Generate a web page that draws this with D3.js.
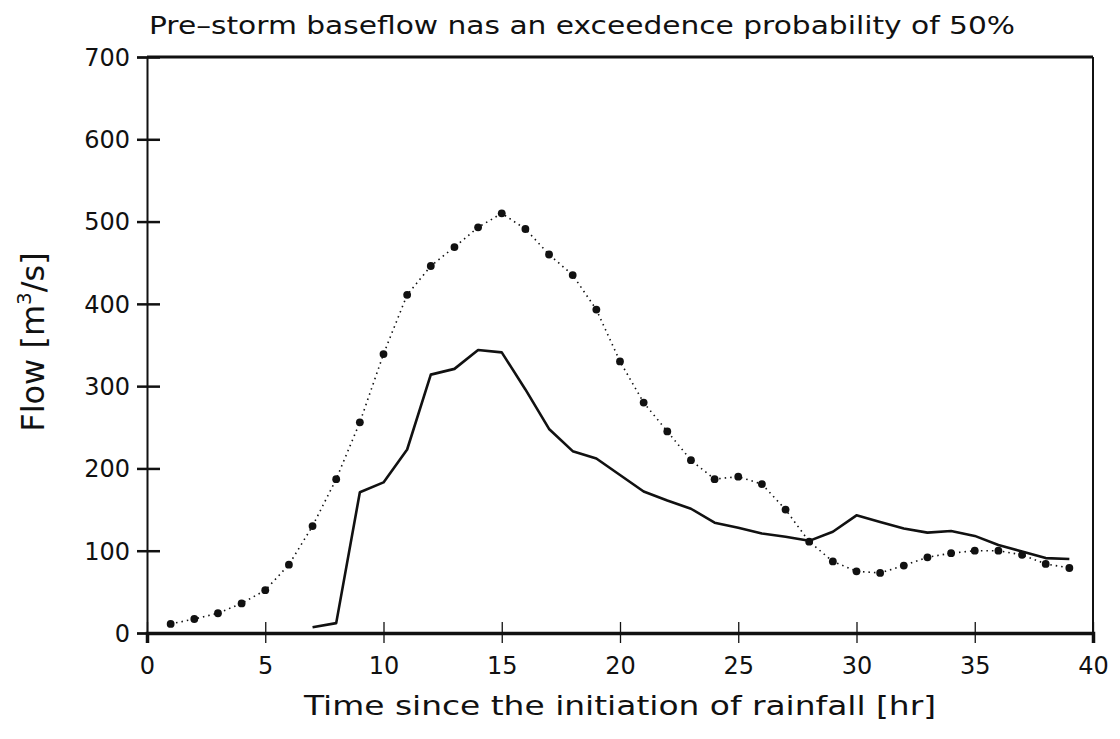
<!DOCTYPE html>
<html><head><meta charset="utf-8">
<script src="https://cdn.jsdelivr.net/npm/d3@7"></script>
<style>body{margin:0;background:#fff}svg text{font-family:"DejaVu Sans",sans-serif;fill:#111}</style>
</head><body><svg id="c" width="1120" height="739"></svg>
<script>
const hoursDotted = d3.range(1, 40);
const flowDotted = [11,17,24,36,52,83,130,187,256,339,411,446,469,493,510,491,460,435,393,330,280,245,210,187,190,181,150,111,87,75,73,82,92,97,100,100,95,84,79];
const hoursSolid = d3.range(7, 40);
const flowSolid = [7,12,171,183,223,314,321,344,341,296,248,221,212,192,172,161,151,134,128,121,117,112,123,143,135,127,122,124,118,107,99,91,90];
const xTicks = [0,5,10,15,20,25,30,35,40];
const yTicks = [0,100,200,300,400,500,600,700];
const titleText = "Pre\u2013storm baseflow nas an exceedence probability of 50%";
const xTitle = "Time since the initiation of rainfall [hr]";

const L=147,R=1093,T=57,B=633;
const svg=d3.select("#c");
const x=d3.scaleLinear().domain([0,40]).range([L,R]);
const y=d3.scaleLinear().domain([0,700]).range([B,T]);

// frame
svg.append("line").attr("x1",L).attr("x2",R).attr("y1",T).attr("y2",T).attr("stroke","#111").attr("stroke-width",3);
svg.append("line").attr("x1",R).attr("x2",R).attr("y1",T).attr("y2",B).attr("stroke","#111").attr("stroke-width",2);

// y axis
const ya=svg.append("g").attr("transform",`translate(${L},0)`)
  .call(d3.axisLeft(y).tickValues(yTicks).tickSize(10).tickPadding(8));
ya.select(".domain").attr("stroke","#111").attr("stroke-width",2);
ya.selectAll(".tick line").attr("x2",-10).attr("x1",13).attr("stroke","#111").attr("stroke-width",2.5);
ya.selectAll(".tick text").attr("font-size",24).attr("x",-17).attr("dy","0.35em").attr("font-family","DejaVu Sans");

// x axis
const xa=svg.append("g").attr("transform",`translate(0,${B})`)
  .call(d3.axisBottom(x).tickValues(xTicks).tickSize(10).tickPadding(14));
xa.select(".domain").attr("stroke","#111").attr("stroke-width",3.5);
xa.selectAll(".tick line").attr("y1",-11).attr("y2",10).attr("stroke","#111").attr("stroke-width",1.3);
xa.selectAll(".tick text").attr("font-size",24).attr("font-family","DejaVu Sans");

// titles
svg.append("text").attr("x",582).attr("y",34).attr("text-anchor","middle").attr("font-size",24)
  .attr("textLength",866).attr("lengthAdjust","spacingAndGlyphs").text(titleText);
svg.append("text").attr("x",620).attr("y",715).attr("text-anchor","middle").attr("font-size",27)
  .attr("textLength",632).attr("lengthAdjust","spacingAndGlyphs").text(xTitle);
const yt=svg.append("text").attr("transform","translate(44,342) rotate(-90)").attr("text-anchor","middle").attr("font-size",32);
yt.append("tspan").text("Flow [m");
yt.append("tspan").attr("font-size",20).attr("dy",-13).text("3");
yt.append("tspan").attr("dy",13).text("/s]");

// dotted series
const dd=hoursDotted.map((h,i)=>[h,flowDotted[i]]);
svg.append("path").datum(dd).attr("fill","none").attr("stroke","#111").attr("stroke-width",1.6)
  .attr("stroke-dasharray","1.5,4").attr("d",d3.line().x(d=>x(d[0])).y(d=>y(d[1])));
svg.selectAll("circle.p").data(dd).join("circle").attr("class","p")
  .attr("cx",d=>x(d[0])).attr("cy",d=>y(d[1])).attr("r",3.9).attr("fill","#111");

// solid series
const sd=hoursSolid.map((h,i)=>[h,flowSolid[i]]);
svg.append("path").datum(sd).attr("fill","none").attr("stroke","#111").attr("stroke-width",2.6)
  .attr("stroke-linejoin","round").attr("d",d3.line().x(d=>x(d[0])).y(d=>y(d[1])));
</script></body></html>
